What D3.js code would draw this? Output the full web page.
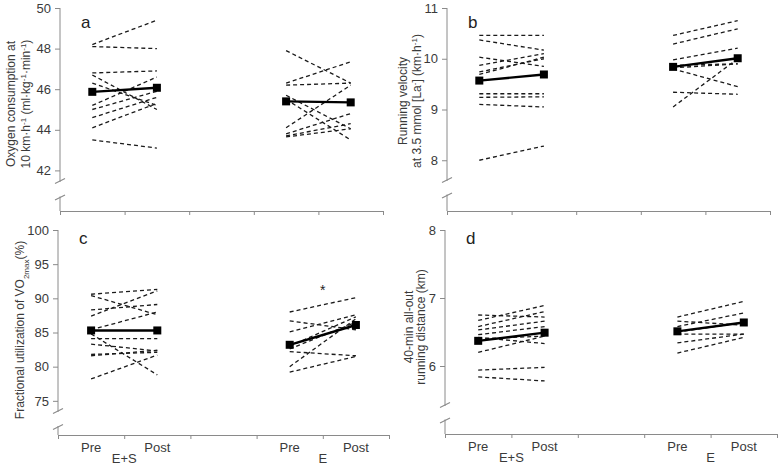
<!DOCTYPE html>
<html>
<head>
<meta charset="utf-8">
<script src="https://cdn.jsdelivr.net/npm/d3@7/dist/d3.min.js"></script>
<style>
  body { margin: 0; background: #fff; }
  svg { display: block; font-family: "Liberation Sans", Arial, sans-serif; }
</style>
</head>
<body>
<svg id="chart" width="780" height="465"></svg>
<script>
// ---------------- DATA ----------------
const xTicks = [0, 1, 2, 3, 4, 5];
const timeLabels = ["Pre", "Post"];
const groupLabels = ["E+S", "E"];
const groupPos = [[0.5, 1.5], [3.5, 4.5]];

// Panel a: oxygen consumption
const a_ES_pre  = [48.2, 48.1, 46.8, 46.7, 46.3, 45.2, 45.0, 44.6, 44.1, 43.5];
const a_ES_post = [49.4, 48.0, 46.9, 45.0, 45.2, 46.6, 45.9, 45.6, 45.3, 43.1];
const a_E_pre   = [47.9, 46.3, 46.2, 45.7, 45.5, 44.1, 43.8, 43.7, 43.65];
const a_E_post  = [46.3, 47.35, 46.3, 44.05, 43.5, 46.2, 44.8, 44.3, 44.05];
const a_mean_ES = [45.87, 46.07];
const a_mean_E  = [45.4, 45.35];
const a_ticks   = [42, 44, 46, 48, 50];

// Panel b: running velocity at 3.5 mmol
const b_ES_pre  = [10.46, 10.37, 10.03, 9.87, 9.74, 9.69, 9.31, 9.24, 9.10, 8.00];
const b_ES_post = [10.46, 10.17, 9.85, 10.10, 10.00, 10.03, 9.31, 9.25, 9.05, 8.28];
const b_E_pre   = [10.46, 10.29, 9.98, 9.87, 9.82, 9.80, 9.34, 9.05];
const b_E_post  = [10.75, 10.59, 10.21, 9.90, 9.90, 9.45, 9.30, 10.00];
const b_mean_ES = [9.57, 9.69];
const b_mean_E  = [9.84, 10.01];
const b_ticks   = [8, 9, 10, 11];

// Panel c: fractional utilization of VO2max
const c_ES_pre  = [90.6, 90.4, 88.3, 87.4, 85.4, 84.8, 84.1, 83.3, 81.8, 81.6, 78.2];
const c_ES_post = [91.3, 87.6, 89.1, 91.1, 88.0, 78.8, 84.1, 82.3, 82.1, 82.4, 81.7];
const c_E_pre   = [88.0, 86.7, 85.1, 83.0, 82.6, 82.2, 80.0, 79.2];
const c_E_post  = [90.1, 85.4, 87.6, 87.3, 86.5, 81.6, 87.0, 81.5];
const c_mean_ES = [85.3, 85.3];
const c_mean_E  = [83.2, 86.1];
const c_ticks   = [75, 80, 85, 90, 95, 100];
const c_star    = { x: 4, y: 91.4, text: "*" };

// Panel d: 40-min all-out running distance
const d_ES_pre  = [6.75, 6.67, 6.58, 6.53, 6.46, 6.42, 6.40, 6.20, 5.94, 5.84];
const d_ES_post = [6.72, 6.89, 6.80, 6.66, 6.58, 6.33, 6.44, 6.44, 5.98, 5.78];
const d_E_pre   = [6.72, 6.66, 6.58, 6.50, 6.47, 6.34, 6.19];
const d_E_post  = [6.95, 6.60, 6.78, 6.64, 6.47, 6.47, 6.42];
const d_mean_ES = [6.37, 6.49];
const d_mean_E  = [6.51, 6.64];
const d_ticks   = [6, 7, 8];

// ---------------- LAYOUT ----------------
const AXIS = "#8a8a8a";
const TXT = "#3a3a3a";
const svg = d3.select("#chart");

const panels = [
  { letter: "a", left: 60, right: 383, top: 8, bottom: 211, domain: [40, 50], ticks: a_ticks,
    ES: [a_ES_pre, a_ES_post], E: [a_E_pre, a_E_post], mES: a_mean_ES, mE: a_mean_E,
    breaks: [30, 13.5], xLabels: false,
    title: [{ x: 11, parts: [["Oxygen consumption at"]] },
            { x: 26, parts: [["10 km·h"], ["-1", "sup"], ["  (ml·kg"], ["-1", "sup"], ["·min"], ["-1", "sup"], [")"]] }],
    titleY: 104 },
  { letter: "b", left: 447, right: 770, top: 8, bottom: 211, domain: [7, 11], ticks: b_ticks,
    ES: [b_ES_pre, b_ES_post], E: [b_E_pre, b_E_post], mES: b_mean_ES, mE: b_mean_E,
    breaks: [31, 15.5], xLabels: false,
    title: [{ x: 403, parts: [["Running velocity"]] },
            { x: 417, parts: [["at 3.5 mmol [La"], ["-", "sup"], ["] (km·h"], ["-1", "sup"], [")"]] }],
    titleY: 101 },
  { letter: "c", left: 58, right: 389, top: 230, bottom: 435, domain: [70, 100], ticks: c_ticks,
    ES: [c_ES_pre, c_ES_post], E: [c_E_pre, c_E_post], mES: c_mean_ES, mE: c_mean_E,
    breaks: [24, 8], xLabels: true, star: c_star,
    title: [{ x: 20, parts: [["Fractional utilization of VO"], ["2max", "sub"], ["(%)"]] }],
    titleY: 330 },
  { letter: "d", left: 445, right: 777, top: 230, bottom: 434, domain: [5, 8], ticks: d_ticks,
    ES: [d_ES_pre, d_ES_post], E: [d_E_pre, d_E_post], mES: d_mean_ES, mE: d_mean_E,
    breaks: [29, 13.5], xLabels: true,
    title: [{ x: 409, parts: [["40-min all-out"]] },
            { x: 421, parts: [["running distance (km)"]] }],
    titleY: 327 }
];

panels.forEach(p => {
  const g = svg.append("g");
  const x = d3.scaleLinear().domain([0, 5]).range([p.left, p.right]);
  const y = d3.scaleLinear().domain(p.domain).range([p.bottom, p.top]);

  // y axis ticks and labels
  const yAxis = d3.axisLeft(y).tickValues(p.ticks).tickFormat(d3.format("d"))
    .tickSize(5).tickPadding(4).tickSizeOuter(0);
  const yg = g.append("g").attr("transform", `translate(${p.left},0)`).call(yAxis);
  yg.select(".domain").remove();
  yg.selectAll(".tick line").attr("stroke", AXIS);
  yg.selectAll(".tick text").attr("fill", TXT).style("font-size", "13px")
    .style("font-family", "Liberation Sans, Arial, sans-serif");

  // y axis line with break
  const b1 = p.bottom - p.breaks[0], b2 = p.bottom - p.breaks[1];
  g.append("line").attr("x1", p.left).attr("x2", p.left).attr("y1", p.top).attr("y2", b1 + 1)
    .attr("stroke", AXIS).attr("stroke-width", 1);
  g.append("line").attr("x1", p.left).attr("x2", p.left).attr("y1", b2 - 1).attr("y2", p.bottom)
    .attr("stroke", AXIS).attr("stroke-width", 1);
  [b1, b2].forEach(by => {
    g.append("line").attr("x1", p.left - 5).attr("y1", by + 2.5).attr("x2", p.left + 5).attr("y2", by - 2.5)
      .attr("stroke", AXIS).attr("stroke-width", 1.2);
  });

  // x axis
  const xAxis = d3.axisBottom(x).tickValues(xTicks).tickSize(4).tickSizeOuter(0).tickFormat("");
  const xg = g.append("g").attr("transform", `translate(0,${p.bottom})`).call(xAxis);
  xg.select(".domain").attr("stroke", AXIS);
  xg.selectAll(".tick line").attr("stroke", AXIS);

  if (p.xLabels) {
    groupPos.forEach((gp, gi) => {
      gp.forEach((xv, ti) => {
        g.append("text").attr("x", x(xv)).attr("y", p.bottom + 17).attr("text-anchor", "middle")
          .attr("fill", TXT).style("font-size", "13px").text(timeLabels[ti]);
      });
      g.append("text").attr("x", x((gp[0] + gp[1]) / 2)).attr("y", p.bottom + 28).attr("text-anchor", "middle")
        .attr("fill", TXT).style("font-size", "13px").text(groupLabels[gi]);
    });
  }

  // individual dashed lines
  const groups = [[p.ES, groupPos[0]], [p.E, groupPos[1]]];
  groups.forEach(([vals, pos]) => {
    const [pre, post] = vals;
    pre.forEach((v, i) => {
      g.append("line")
        .attr("x1", x(pos[0])).attr("y1", y(v))
        .attr("x2", x(pos[1])).attr("y2", y(post[i]))
        .attr("stroke", "#1a1a1a").attr("stroke-width", 1.3).attr("stroke-dasharray", "4,3");
    });
  });

  // mean lines with square markers
  [[p.mES, groupPos[0]], [p.mE, groupPos[1]]].forEach(([m, pos]) => {
    g.append("line")
      .attr("x1", x(pos[0])).attr("y1", y(m[0]))
      .attr("x2", x(pos[1])).attr("y2", y(m[1]))
      .attr("stroke", "#000").attr("stroke-width", 2.4);
    m.forEach((v, i) => {
      g.append("rect").attr("x", x(pos[i]) - 4).attr("y", y(v) - 4)
        .attr("width", 8).attr("height", 8).attr("fill", "#000");
    });
  });

  // panel letter
  g.append("text").attr("x", p.left + 21).attr("y", p.top + (p.top < 100 ? 20 : 14))
    .attr("fill", "#222").style("font-size", "17px").text(p.letter);

  // star
  if (p.star) {
    g.append("text").attr("x", x(p.star.x)).attr("y", y(p.star.y) + 6).attr("text-anchor", "middle")
      .attr("fill", "#222").style("font-size", "14px").text(p.star.text);
  }

  // y axis title
  p.title.forEach(t => {
    const tx = g.append("text")
      .attr("transform", `translate(${t.x},${p.titleY}) rotate(-90)`)
      .attr("text-anchor", "middle").attr("dy", "0.35em")
      .attr("fill", TXT).style("font-size", "12px");
    t.parts.forEach(([s, kind]) => {
      const ts = tx.append("tspan").text(s);
      if (kind === "sup") ts.attr("baseline-shift", "super").style("font-size", "8px");
      if (kind === "sub") ts.attr("baseline-shift", "sub").style("font-size", "8px");
    });
  });
});
</script>
</body>
</html>
